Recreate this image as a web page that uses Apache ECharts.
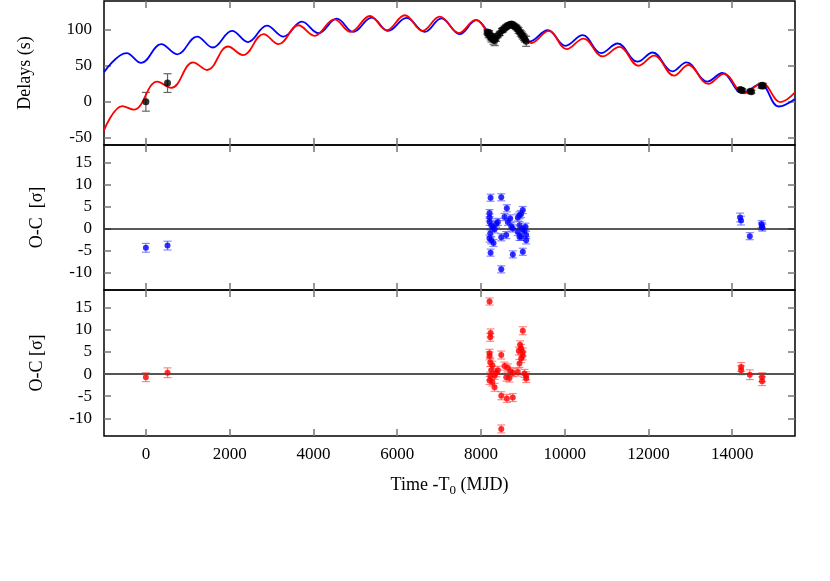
<!DOCTYPE html>
<html>
<head>
<meta charset="utf-8">
<script src="https://cdn.jsdelivr.net/npm/echarts@6/dist/echarts.min.js"></script>
<style>
  html, body { margin: 0; padding: 0; background: #fff; }
  #chart { width: 830px; height: 581px; }
</style>
</head>
<body>
<div id="chart"></div>
<script>
// tick labels
var xTicks = [0, 2000, 4000, 6000, 8000, 10000, 12000, 14000];
var delayTicks = [-50, 0, 50, 100];
var ocTicks = [-10, -5, 0, 5, 10, 15];

// model curves (read at peaks / troughs) [time, delay]
var blueModel = [
  [-1000, 41], [-460, 67.7], [-110, 54], [367, 80], [748, 66], [1224, 90.6], [1595, 75.4],
  [2057, 98.5], [2438, 83], [2890, 105.8], [3286, 90.6], [3724, 111.3], [4119, 95.3],
  [4557, 115.5], [4952, 97], [5390, 117], [5786, 98.5], [6224, 116.5], [6660, 97],
  [7057, 116], [7493, 94], [7890, 113.3], [8330, 90], [8740, 108], [9162, 83.7],
  [9598, 99.4], [10019, 77.8], [10431, 92.5], [10869, 67.7], [11264, 81], [11740, 55.7],
  [12098, 68.5], [12574, 42.3], [12907, 54.7], [13407, 28], [13764, 40], [14240, 12.4],
  [14676, 24.5], [15112, -6.5], [15500, 4]
];
var redModel = [
  [-1000, -39.6], [-562, -6], [-286, -11], [271, 28], [605, 19.3], [1129, 54.7], [1462, 44.2],
  [1962, 76.8], [2319, 64.9], [2810, 93.9], [3167, 80.1], [3643, 106.3], [4024, 91.6],
  [4500, 114.6], [4890, 97.1], [5350, 119.2], [5748, 99.4], [6183, 120.2], [6605, 98.5],
  [7017, 118.2], [7474, 95.5], [7874, 113.7], [8320, 89], [8730, 107], [9202, 81.5],
  [9619, 98.5], [10048, 73.2], [10448, 87.8], [10908, 63], [11305, 76.4], [11764, 50.1],
  [12136, 64], [12612, 36.3], [12952, 51.1], [13429, 24.9], [13802, 38.7], [14279, 11.9],
  [14714, 25.7], [15152, -0.5], [15500, 13]
];

// measured delays [time, delay, error]
var delayObs = [
  [0, 0, 13], [517, 26, 13],
  [8150, 97, 3], [8170, 95, 3], [8185, 93, 4], [8200, 96, 3], [8215, 92, 3], [8230, 90, 4],
  [8250, 88, 5], [8270, 91, 3], [8300, 86, 6], [8330, 85, 7], [8360, 88, 4], [8400, 92, 3],
  [8450, 95, 3], [8500, 99, 3], [8530, 100, 3], [8560, 102, 3], [8600, 104, 3], [8630, 105, 3],
  [8650, 106, 3], [8680, 107, 3], [8700, 107, 3], [8730, 108, 3], [8750, 107, 3], [8780, 106, 3],
  [8800, 105, 3], [8830, 104, 3], [8850, 103, 3], [8880, 101, 3], [8900, 99, 4], [8930, 97, 3],
  [8950, 95, 4], [8980, 93, 4], [9000, 91, 4], [9030, 89, 4], [9050, 87, 4], [9080, 84, 7],
  [14190, 17, 2], [14220, 16, 2], [14240, 16, 2], [14430, 14.5, 2], [14460, 14, 2],
  [14700, 22, 3], [14720, 23, 3], [14740, 22, 3]
];

// O-C residuals, blue model [time, sigma, error]
var ocBlue = [
  [0, -4.4, 1.0], [517, -3.9, 1.0],
  [8231, 7.0, 0.8], [8486, 7.1, 0.8], [8619, 4.6, 0.8], [8207, 3.5, 0.8], [8207, 2.5, 0.8],
  [8207, 1.5, 0.8], [8248, 0.75, 0.8], [8286, 0.2, 0.8], [8326, -0.2, 0.8], [8367, 1.1, 0.8],
  [8405, 1.5, 0.8], [8224, -1.1, 0.8], [8207, -2.3, 0.8], [8248, -2.7, 0.8], [8302, -3.3, 0.8],
  [8231, -5.5, 0.8], [8486, -2.0, 0.8], [8605, -1.5, 0.8], [8486, -9.3, 0.8], [8564, 2.6, 0.8],
  [8643, 1.5, 0.8], [8700, 2.3, 0.8], [8724, 0.5, 0.8], [8762, 0, 0.8], [8762, -5.9, 0.8],
  [8881, 2.5, 0.8], [8921, 3.0, 0.8], [9000, 4.2, 0.8], [8960, 3.3, 0.8], [8921, 0.75, 0.8],
  [8881, -0.8, 0.8], [8921, -1.9, 0.8], [8983, -0.2, 0.8], [9040, -0.4, 0.8], [9081, -1.5, 0.8],
  [9081, -2.7, 0.8], [9000, -5.3, 0.8], [9064, 0.4, 0.8], [8960, -1.9, 0.8],
  [14190, 2.5, 1.0], [14210, 1.8, 1.0], [14421, -1.75, 0.8],
  [14700, 1.0, 0.8], [14710, 0.5, 0.8], [14720, 0.2, 0.8]
];

// O-C residuals, red model [time, sigma, error]
var ocRed = [
  [0, -0.7, 1.0], [517, 0.3, 1.1],
  [8207, 16.4, 0.8], [8231, 9.3, 0.9], [8224, 8.3, 0.9], [8207, 4.7, 0.9], [8207, 4.1, 0.9],
  [8224, 2.6, 0.9], [8274, 2.0, 0.9], [8248, 0.85, 0.9], [8224, -0.45, 0.9], [8207, -1.45, 0.9],
  [8274, -1.8, 0.9], [8326, -3.0, 0.9], [8367, 0.3, 0.9], [8405, 0.85, 0.9], [8326, -0.3, 0.9],
  [8486, 4.3, 0.9], [8486, -4.9, 0.9], [8619, -5.5, 0.9], [8762, -5.3, 0.9], [8486, -12.4, 0.9],
  [8564, 1.8, 0.9], [8643, 1.4, 0.9], [8605, -0.7, 0.9], [8683, -0.9, 0.9], [8707, 0.6, 0.9],
  [8762, 0.3, 0.9], [8881, 0.45, 0.9], [8921, 2.4, 0.9], [8960, 3.5, 0.9], [9000, 9.8, 0.9],
  [8937, 6.6, 0.9], [8960, 5.8, 0.9], [8905, 5.2, 0.9], [9000, 4.1, 0.9], [9000, 5.0, 0.9],
  [9040, 0.15, 0.9], [9081, -0.4, 0.9], [9081, -1.0, 0.9],
  [14214, 1.6, 1.0], [14214, 0.85, 1.0], [14421, -0.15, 1.1],
  [14714, -0.7, 1.0], [14714, -1.6, 1.0]
];

var serif = 'Liberation Serif';
var myChart = echarts.init(document.getElementById('chart'));

function errBars(data, color, xi, yi) {
  return {
    type: 'custom',
    xAxisIndex: xi,
    yAxisIndex: yi,
    silent: true,
    z: 2,
    clip: true,
    data: data.map(function (d) { return [d[0], d[1] - d[2], d[1] + d[2]]; }),
    renderItem: function (params, api) {
      var x = api.value(0);
      var lo = api.coord([x, api.value(1)]);
      var hi = api.coord([x, api.value(2)]);
      var w = 4;
      var st = { stroke: color, lineWidth: 1.2 };
      return {
        type: 'group',
        children: [
          { type: 'line', shape: { x1: lo[0], y1: lo[1], x2: hi[0], y2: hi[1] }, style: st },
          { type: 'line', shape: { x1: lo[0] - w, y1: lo[1], x2: lo[0] + w, y2: lo[1] }, style: st },
          { type: 'line', shape: { x1: hi[0] - w, y1: hi[1], x2: hi[0] + w, y2: hi[1] }, style: st }
        ]
      };
    }
  };
}

function plain(v) { return String(v); }

function xAx(grid, pos, showLabel) {
  return {
    type: 'value', gridIndex: grid, position: pos, min: -1000, max: 15500,
    splitLine: { show: false },
    axisLine: { show: false, onZero: false },
    axisTick: { show: true, inside: true, length: 7, customValues: xTicks, lineStyle: { color: '#777', width: 1.5 } },
    axisLabel: { show: showLabel, customValues: xTicks, formatter: plain, margin: 10, color: '#000', fontFamily: serif, fontSize: 17 }
  };
}
function yAx(grid, pos, min, max, ticks, name, gap) {
  return {
    type: 'value', gridIndex: grid, position: pos, min: min, max: max,
    name: pos === 'left' ? name : '',
    nameLocation: 'middle', nameGap: gap,
    nameTextStyle: { color: '#000', fontFamily: serif, fontSize: 18 },
    splitLine: { show: false },
    axisLine: { show: false, onZero: false },
    axisTick: { show: true, inside: true, length: 7, customValues: ticks, lineStyle: { color: '#777', width: 1.5 } },
    axisLabel: { show: pos === 'left', customValues: ticks, formatter: plain, margin: 12, color: '#000', fontFamily: serif, fontSize: 17 }
  };
}

var frame = { show: true, borderColor: '#000', borderWidth: 1.5, backgroundColor: 'transparent' };
var xb = xAx(2, 'bottom', true);
xb.name = 'Time -T{sub|0} (MJD)';
xb.nameLocation = 'middle';
xb.nameGap = 38;
xb.nameTextStyle = {
  color: '#000', fontFamily: serif, fontSize: 18,
  rich: { sub: { fontFamily: serif, fontSize: 13, color: '#000', padding: [10, 0, 0, 0] } }
};

var option = {
  animation: false,
  backgroundColor: '#fff',
  grid: [
    Object.assign({ left: 104, right: 35, top: 1, height: 144 }, frame),
    Object.assign({ left: 104, right: 35, top: 145, height: 145 }, frame),
    Object.assign({ left: 104, right: 35, top: 290, height: 146 }, frame)
  ],
  xAxis: [
    xAx(0, 'bottom', false), xAx(1, 'bottom', false), xb,
    xAx(0, 'top', false), xAx(1, 'top', false), xAx(2, 'top', false)
  ],
  yAxis: [
    yAx(0, 'left', -60, 140, delayTicks, 'Delays (s)', 70),
    yAx(1, 'left', -14, 19, ocTicks, 'O-C  [\u03c3]', 58),
    yAx(2, 'left', -14, 19, ocTicks, 'O-C [\u03c3]', 58),
    yAx(0, 'right', -60, 140, delayTicks, '', 0),
    yAx(1, 'right', -14, 19, ocTicks, '', 0),
    yAx(2, 'right', -14, 19, ocTicks, '', 0)
  ],
  series: [
    {
      type: 'line', xAxisIndex: 0, yAxisIndex: 0, data: blueModel, smooth: 0.4,
      showSymbol: false, clip: true, lineStyle: { color: '#0000ff', width: 1.8 }, z: 3
    },
    {
      type: 'line', xAxisIndex: 0, yAxisIndex: 0, data: redModel, smooth: 0.4,
      showSymbol: false, clip: true, lineStyle: { color: '#ff0000', width: 1.8 }, z: 4
    },
    errBars(delayObs, '#666', 0, 0),
    {
      type: 'scatter', xAxisIndex: 0, yAxisIndex: 0, symbolSize: 7, z: 5,
      itemStyle: { color: '#000' },
      data: delayObs.map(function (d) { return [d[0], d[1]]; })
    },
    errBars(ocBlue, 'rgba(40,40,255,0.55)', 1, 1),
    {
      type: 'scatter', xAxisIndex: 1, yAxisIndex: 1, symbolSize: 6, z: 5,
      itemStyle: { color: '#0000ff' },
      data: ocBlue.map(function (d) { return [d[0], d[1]]; }),
      markLine: {
        silent: true, symbol: 'none', label: { show: false },
        lineStyle: { color: '#222', width: 1.5, type: 'solid' },
        data: [{ yAxis: 0 }]
      }
    },
    errBars(ocRed, 'rgba(255,40,40,0.55)', 2, 2),
    {
      type: 'scatter', xAxisIndex: 2, yAxisIndex: 2, symbolSize: 6, z: 5,
      itemStyle: { color: '#ff0000' },
      data: ocRed.map(function (d) { return [d[0], d[1]]; }),
      markLine: {
        silent: true, symbol: 'none', label: { show: false },
        lineStyle: { color: '#555', width: 2, type: 'solid' },
        data: [{ yAxis: 0 }]
      }
    }
  ]
};
myChart.setOption(option);
</script>
</body>
</html>
